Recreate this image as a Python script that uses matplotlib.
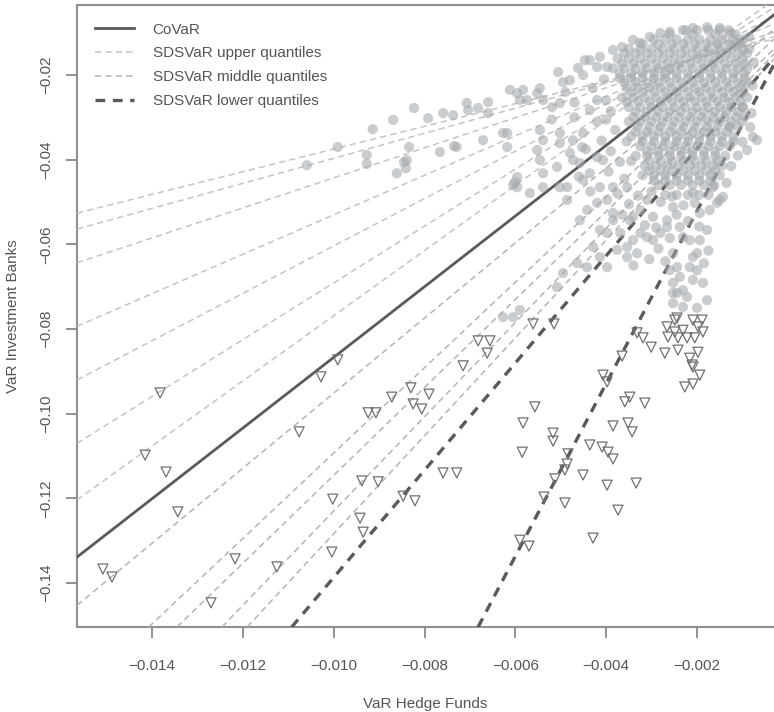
import numpy as np
import matplotlib
matplotlib.use("Agg")
import matplotlib.pyplot as plt

plt.rcParams['font.family'] = ['Liberation Sans', 'DejaVu Sans']
plt.rcParams['lines.scale_dashes'] = False

# values below are in thousandths (x 1e-3)
# ---- regression lines: intercept, slope ----
covar_coef = (-3.21, 8.35)
upper_icpt = [-10.69, -10.08, -8.80, -6.43, -4.39, -2.01, 0.13]
upper_slope = [2.68, 2.96, 3.55, 4.66, 5.60, 6.71, 7.70]
middle_icpt = [-6.46, -8.42, -10.68, -11.62, -12.67]
middle_slope = [8.87, 10.09, 10.39, 11.14, 11.57]
lower_icpt = [-12.0, -11.27]
lower_slope = [12.67, 20.4]

# ---- observations (VaR hedge funds, VaR investment banks) ----
spread_pts = [
    (-10.59, -41.3), (-9.91, -37.0), (-9.27, -38.9), (-9.27, -41.0), (-9.14, -32.8),
    (-8.69, -30.6), (-8.61, -43.2), (-8.45, -40.6), (-8.41, -42.0), (-8.23, -27.8),
    (-8.34, -37.0), (-7.66, -38.2), (-7.35, -36.8), (-7.92, -30.2), (-7.37, -29.5),
    (-7.04, -28.3), (-6.60, -26.4), (-6.60, -29.0), (-6.71, -35.4), (-6.27, -33.7),
    (-5.96, -24.3), (-5.83, -23.5), (-5.74, -25.9), (-5.52, -24.3), (-5.39, -25.9),
    (-5.19, -27.6), (-5.06, -19.3), (-4.80, -21.2), (-4.62, -18.3), (-4.51, -20.0),
    (-4.36, -16.5), (-4.20, -18.1), (-5.46, -33.0), (-5.39, -35.4), (-5.02, -33.7),
    (-4.73, -35.4), (-4.51, -33.7), (-4.36, -28.3), (-4.20, -25.9), (-5.02, -26.6),
    (-5.46, -40.1), (-5.39, -43.2), (-5.08, -41.7), (-4.80, -38.4), (-4.58, -40.8),
    (-4.36, -43.2), (-4.20, -39.4), (-5.96, -44.1), (-5.96, -46.5), (-5.68, -47.9),
    (-7.59, -29.0), (-7.07, -26.6), (-6.82, -27.8), (-6.12, -23.5), (-5.90, -25.9),
    (-5.46, -23.1), (-4.95, -21.7), (-4.47, -16.5), (-4.14, -15.7), (-3.98, -18.1),
    (-3.85, -14.1), (-3.65, -13.4), (-3.41, -11.7), (-3.25, -12.4), (-3.04, -11.0),
    (-2.81, -10.1), (-2.60, -9.8), (-2.31, -9.4), (-2.09, -8.9), (-1.78, -8.7),
    (-1.50, -8.9), (-1.28, -10.1), (-1.12, -12.4), (-8.39, -40.1), (-7.29, -37.0),
    (-6.18, -37.0), (-6.01, -45.3), (-5.52, -37.7), (-5.39, -46.5), (-5.02, -46.5),
    (-4.86, -49.5), (-4.73, -40.1), (-4.53, -37.0), (-4.07, -40.1), (-4.14, -46.5),
    (-3.98, -49.5), (-3.85, -52.6), (-3.69, -57.3), (-3.41, -53.5), (-3.25, -57.3),
    (-3.54, -46.5), (-3.10, -49.5), (-2.97, -53.5), (-2.81, -57.3), (-2.53, -51.2),
    (-2.38, -55.9), (-2.16, -59.0), (-1.94, -52.6), (-1.78, -56.6), (-2.09, -47.9),
    (-1.65, -46.5), (-1.50, -49.5), (-0.99, -27.6), (-0.83, -32.3), (-0.77, -34.6),
    (-1.28, -32.3), (-0.68, -35.4), (-0.90, -37.7), (-1.72, -51.9), (-1.94, -59.0),
    (-2.00, -62.1), (-2.16, -65.4), (-2.09, -68.4), (-2.31, -70.8), (-2.22, -72.4),
    (-1.56, -50.2), (-1.43, -48.8), (-2.97, -59.0), (-3.41, -59.0), (-3.54, -63.0),
    (-3.76, -61.3), (-3.98, -57.3), (-2.53, -62.1), (-2.44, -65.4), (-2.38, -67.7),
    (-2.66, -55.9), (-2.31, -58.3), (-2.09, -63.0), (-2.00, -66.1), (-1.87, -69.1),
    (-2.44, -71.5), (-1.78, -73.2), (-2.31, -74.8), (-2.00, -75.0), (-2.60, -66.1),
    (-2.53, -69.1), (-4.14, -63.0), (-6.18, -33.7), (-6.05, -46.0), (-5.02, -36.1),
    (-4.86, -46.5), (-4.51, -44.8), (-4.58, -54.3), (-4.42, -51.9), (-4.20, -50.2),
    (-3.85, -54.3), (-4.14, -56.6), (-4.29, -60.6), (-4.64, -64.4), (-4.42, -65.4),
    (-3.98, -65.4), (-3.54, -60.6), (-3.32, -62.1), (-3.10, -58.3), (-2.66, -54.3),
    (-3.48, -54.3), (-3.25, -51.9), (-3.85, -46.5), (-6.27, -77.2), (-6.05, -77.2),
    (-5.90, -75.5), (-5.08, -70.1), (-4.95, -66.8), (-2.53, -71.5), (-2.53, -73.9),
]

mid_pts = [
    (-4.0, -30.5), (-3.8, -33.0), (-4.1, -35.5), (-3.9, -38.0), (-3.7, -40.5),
    (-3.95, -42.8), (-3.6, -44.5), (-3.75, -48.0), (-3.5, -50.5), (-3.3, -48.5),
    (-3.0, -47.5), (-2.8, -50.0), (-2.55, -48.7), (-2.3, -50.8), (-2.05, -50.2),
    (-3.15, -55.5), (-2.9, -56.0), (-2.45, -53.0), (-2.2, -54.5), (-1.95, -55.8),
    (-2.6, -58.5), (-3.65, -53.0), (-4.35, -47.5), (-4.6, -44.0), (-4.45, -37.5),
    (-4.2, -31.0), (-4.3, -23.0), (-4.05, -21.0), (-4.0, -26.0), (-3.9, -28.5),
    (-4.7, -30.0), (-4.9, -24.0), (-5.2, -30.5), (-4.7, -26.5), (-3.4, -65.0),
    (-2.85, -61.0), (-3.05, -63.5), (-2.7, -64.0), (-1.75, -61.5), (-1.85, -64.5),
    (-1.35, -45.5), (-1.25, -41.5), (-1.1, -39.0), (-1.0, -35.8), (-0.8, -29.0),
    (-0.78, -22.5), (-0.75, -17.0), (-0.85, -11.0),
]

# dense centre of the cloud, row by row: (VaR IB, [VaR HF ...])
core_rows = [
    (-9.4, [-2.25, -2.0, -1.75, -1.5, -1.3]),
    (-10.4, [-2.6, -2.1, -1.6, -1.15]),
    (-11.6, [-2.95, -2.7, -2.45, -2.2, -1.95, -1.7, -1.45, -1.2, -0.98]),
    (-12.7, [-3.2, -2.85, -2.55, -2.3, -2.05, -1.8, -1.55, -1.3, -1.05]),
    (-13.8, [-3.5, -3.25, -3.0, -2.75, -2.5, -2.25, -2.0, -1.75, -1.5, -1.25, -1.0, -0.85]),
    (-14.9, [-3.6, -3.35, -3.1, -2.85, -2.6, -2.35, -2.1, -1.85, -1.6, -1.35, -1.1, -0.9]),
    (-16.1, [-3.75, -3.5, -3.25, -3.0, -2.75, -2.5, -2.25, -2.0, -1.75, -1.5, -1.25, -1.0]),
    (-17.3, [-3.65, -3.4, -3.15, -2.9, -2.65, -2.4, -2.15, -1.9, -1.65, -1.4, -1.15, -0.95]),
    (-18.4, [-3.85, -3.6, -3.35, -3.1, -2.85, -2.6, -2.35, -2.1, -1.85, -1.6, -1.35, -1.1, -0.9]),
    (-19.6, [-3.7, -3.45, -3.2, -2.95, -2.7, -2.45, -2.2, -1.95, -1.7, -1.45, -1.2, -0.98]),
    (-20.7, [-3.7, -3.45, -3.2, -2.95, -2.7, -2.45, -2.2, -1.95, -1.7, -1.45, -1.2, -0.95]),
    (-21.8, [-3.6, -3.35, -3.1, -2.85, -2.6, -2.35, -2.1, -1.85, -1.6, -1.35, -1.1, -0.9]),
    (-23.0, [-3.55, -3.3, -3.05, -2.8, -2.55, -2.3, -2.05, -1.8, -1.55, -1.3, -1.05]),
    (-24.0, [-3.45, -3.2, -2.95, -2.7, -2.45, -2.2, -1.95, -1.7, -1.45, -1.2, -0.98]),
    (-25.3, [-3.65, -3.4, -3.15, -2.9, -2.65, -2.4, -2.15, -1.9, -1.65, -1.4, -1.15, -0.9]),
    (-26.3, [-3.55, -3.3, -3.05, -2.8, -2.55, -2.3, -2.05, -1.8, -1.55, -1.3, -1.05]),
    (-27.6, [-3.5, -3.25, -3.0, -2.75, -2.5, -2.25, -2.0, -1.75, -1.5, -1.25, -1.0]),
    (-28.7, [-3.35, -3.1, -2.85, -2.6, -2.35, -2.1, -1.85, -1.6, -1.35, -1.1]),
    (-29.9, [-3.4, -3.15, -2.9, -2.65, -2.4, -2.15, -1.9, -1.65, -1.4, -1.15, -0.95]),
    (-31.0, [-3.5, -3.25, -3.0, -2.75, -2.5, -2.25, -2.0, -1.75, -1.5, -1.25, -1.02]),
    (-32.2, [-3.3, -3.05, -2.8, -2.55, -2.3, -2.05, -1.8, -1.55, -1.3, -1.1]),
    (-33.4, [-3.35, -3.1, -2.85, -2.6, -2.35, -2.1, -1.85, -1.6, -1.35]),
    (-34.5, [-3.45, -3.2, -2.95, -2.7, -2.45, -2.2, -1.95, -1.7, -1.45, -1.2]),
    (-35.7, [-3.55, -3.2, -2.95, -2.7, -2.45, -2.2, -1.95, -1.7, -1.45, -1.2]),
    (-36.8, [-3.25, -3.0, -2.75, -2.5, -2.25, -2.0, -1.75, -1.5, -1.28]),
    (-38.0, [-3.1, -2.85, -2.6, -2.35, -2.1, -1.85, -1.6]),
    (-39.1, [-3.35, -3.1, -2.85, -2.6, -2.35, -2.1, -1.85, -1.6, -1.38]),
    (-40.3, [-3.45, -3.05, -2.8, -2.55, -2.3, -2.05, -1.8, -1.55]),
    (-41.4, [-3.15, -2.9, -2.65, -2.4, -2.15, -1.9, -1.65, -1.45]),
    (-42.6, [-3.05, -2.8, -2.55, -2.3, -2.05, -1.8, -1.6]),
    (-43.7, [-3.2, -2.95, -2.7, -2.45, -2.2, -1.95, -1.7, -1.5]),
    (-44.9, [-2.95, -2.7, -2.45, -2.2, -1.95, -1.7]),
    (-46.0, [-2.85, -2.6, -2.35, -2.1, -1.85, -1.62]),
    (-48.3, [-2.7, -2.45, -2.2, -1.95, -1.75]),
]

# exceedances (triangles)
exceed_pts = [
    (-13.82, -95.1), (-14.15, -109.8), (-13.69, -113.8), (-13.43, -123.2), (-15.08, -136.7),
    (-14.88, -138.6), (-12.70, -144.7), (-12.17, -134.3), (-11.25, -136.2), (-10.28, -91.3),
    (-9.91, -87.3), (-10.76, -104.3), (-9.24, -99.8), (-9.07, -99.8), (-8.72, -96.1),
    (-8.30, -93.9), (-8.25, -97.7), (-8.06, -98.9), (-7.90, -95.4), (-9.38, -115.9),
    (-9.02, -116.1), (-10.02, -120.2), (-9.42, -124.7), (-9.35, -128.0), (-10.04, -132.7),
    (-8.47, -119.5), (-8.21, -120.6), (-7.59, -114.0), (-7.29, -114.0), (-5.61, -78.8),
    (-5.15, -78.8), (-6.82, -82.8), (-6.56, -82.8), (-6.62, -85.7), (-7.15, -88.7),
    (-5.57, -98.4), (-5.83, -102.2), (-5.17, -104.6), (-5.17, -106.5), (-3.32, -80.9),
    (-3.19, -82.1), (-3.01, -84.3), (-2.71, -85.7), (-3.65, -86.4), (-2.66, -79.5),
    (-2.49, -77.9), (-2.44, -77.4), (-2.09, -77.9), (-1.89, -77.9), (-2.49, -80.7),
    (-2.31, -80.3), (-1.98, -79.5), (-1.87, -80.7), (-2.64, -81.9), (-2.42, -82.1),
    (-2.22, -82.1), (-2.05, -82.1), (-2.42, -85.0), (-1.98, -85.5), (-2.16, -86.9),
    (-2.11, -88.5), (-2.09, -89.0), (-1.94, -90.9), (-2.27, -93.7), (-2.09, -93.0),
    (-4.07, -90.9), (-3.98, -92.5), (-3.48, -96.1), (-3.59, -97.2), (-3.15, -97.5),
    (-3.85, -102.9), (-3.52, -102.2), (-3.43, -104.3), (-4.36, -107.4), (-4.09, -107.9),
    (-3.96, -109.1), (-3.85, -110.7), (-4.84, -109.5), (-4.86, -111.9), (-4.91, -113.3),
    (-4.51, -114.5), (-3.98, -116.9), (-3.34, -116.4), (-4.91, -121.1), (-3.74, -122.8),
    (-4.29, -129.4), (-5.90, -129.9), (-5.70, -131.3), (-5.37, -119.7), (-5.13, -115.4),
    (-5.85, -109.1),
]

xtick_vals = [-0.014, -0.012, -0.010, -0.008, -0.006, -0.004, -0.002]
xtick_text = ['\u22120.014', '\u22120.012', '\u22120.010', '\u22120.008',
              '\u22120.006', '\u22120.004', '\u22120.002']
ytick_vals = [-0.14, -0.12, -0.10, -0.08, -0.06, -0.04, -0.02]
ytick_text = ['\u22120.14', '\u22120.12', '\u22120.10', '\u22120.08',
              '\u22120.06', '\u22120.04', '\u22120.02']

txt = '#555555'
fig = plt.figure(figsize=(7.74, 7.12), dpi=100)
ax = fig.add_axes([77 / 774, 85 / 712, 697 / 774, 622 / 712])

core_pts = [(x, y) for y, xs in core_rows for x in xs]
circ = np.array(spread_pts + mid_pts + core_pts) / 1000
# the cloud sits over the fitted lines, as in the original
ax.scatter(circ[:, 0], circ[:, 1], s=54, color='#a5a9ad', alpha=0.58,
           edgecolors='none', zorder=3.5)

tri = np.array(exceed_pts) / 1000
ax.scatter(tri[:, 0], tri[:, 1], s=52, marker='v', facecolors='none',
           edgecolors='#707070', linewidths=0.9, zorder=4)

for i, (a, b) in enumerate(zip(upper_icpt, upper_slope)):
    ax.axline((0, a / 1000), slope=b, color='#c4c4c4', lw=1.1,
              linestyle=(0, (4.5, 3)), zorder=3,
              label='SDSVaR upper quantiles' if i == 0 else None)
for i, (a, b) in enumerate(zip(middle_icpt, middle_slope)):
    ax.axline((0, a / 1000), slope=b, color='#b4b4b4', lw=1.1,
              linestyle=(0, (4.5, 3)), zorder=3,
              label='SDSVaR middle quantiles' if i == 0 else None)
for i, (a, b) in enumerate(zip(lower_icpt, lower_slope)):
    ax.axline((0, a / 1000), slope=b, color='#5a5a5a', lw=2.4,
              linestyle=(0, (7, 5.5)), zorder=3,
              label='SDSVaR lower quantiles' if i == 0 else None)
ax.axline((0, covar_coef[0] / 1000), slope=covar_coef[1], color='#5a5a5a',
          lw=2.0, zorder=3, label='CoVaR')

ax.set_xlim(-0.01565, -0.000306)
ax.set_ylim(-0.1504, -0.00346)

ax.set_xticks(xtick_vals)
ax.set_xticklabels(xtick_text)
ax.set_yticks(ytick_vals)
ax.set_yticklabels(ytick_text, rotation=90, va='center')
ax.tick_params(axis='both', colors='#888888', labelcolor=txt, labelsize=11,
               length=8, width=1.3, direction='out')
ax.tick_params(axis='x', pad=15)
ax.tick_params(axis='y', pad=9)
for side in ['left', 'bottom', 'top']:
    ax.spines[side].set_color('#909090')
    ax.spines[side].set_linewidth(1.5)
ax.spines['right'].set_visible(False)

ax.set_xlabel('VaR Hedge Funds', fontsize=11, color=txt, labelpad=17)
ax.set_ylabel('VaR Investment Banks', fontsize=11, color=txt, labelpad=14)

handles, labels = ax.get_legend_handles_labels()
order = [labels.index(l) for l in ['CoVaR', 'SDSVaR upper quantiles',
                                   'SDSVaR middle quantiles', 'SDSVaR lower quantiles']]
leg = ax.legend([handles[k] for k in order], [labels[k] for k in order],
                loc='upper left', bbox_to_anchor=(0.0, 1.0), frameon=False,
                fontsize=11, handlelength=2.6, handletextpad=1.2,
                labelspacing=0.65, borderaxespad=0.75)
for t in leg.get_texts():
    t.set_color(txt)

fig.savefig('out.png', dpi=100)
